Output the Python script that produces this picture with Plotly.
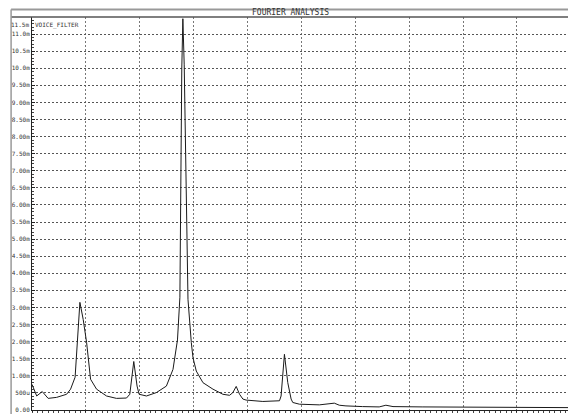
import plotly.graph_objects as go

# Frequency (Hz) and amplitude (V)
freq_hz = [0, 87, 190, 300, 457, 642, 716, 800, 889, 950, 1013, 1087, 1198, 1383,
           1568, 1754, 1815, 1889, 1950, 1988, 2124, 2309, 2494, 2617, 2700, 2745,
           2780, 2800, 2825, 2860, 2895, 2957, 2988, 3049, 3173, 3358, 3543, 3667,
           3728, 3790, 3852, 3914, 3975, 4284, 4593, 4623, 4685, 4747, 4809, 4840,
           4963, 5333, 5519, 5611, 5704, 5827, 6136, 6444, 6568, 6700, 7241, 8000,
           9222, 9948]
amp_mv = [0.75, 0.41, 0.54, 0.34, 0.37, 0.46, 0.61, 0.96, 3.15, 2.65, 1.98, 0.90,
          0.61, 0.41, 0.34, 0.35, 0.46, 1.42, 0.70, 0.46, 0.41, 0.51, 0.70, 1.19,
          2.05, 3.30, 10.0, 11.45, 10.1, 6.0, 3.24, 1.97, 1.53, 1.14, 0.80, 0.61,
          0.46, 0.43, 0.51, 0.69, 0.46, 0.32, 0.29, 0.25, 0.27, 0.41, 1.63, 0.80,
          0.32, 0.22, 0.17, 0.15, 0.17, 0.20, 0.14, 0.12, 0.10, 0.09, 0.14, 0.10,
          0.09, 0.09, 0.08, 0.07]
amp_v = [a / 1000.0 for a in amp_mv]

series_name = "VOICE_FILTER"
chart_title = "FOURIER ANALYSIS"

x_tickvals = [0, 1000, 2000, 3000, 4000, 5000, 6000, 7000, 8000, 9000, 10000]
x_ticktext = ["0.00", "1.00K", "2.00K", "3.00K", "4.00K", "5.00K", "6.00K",
              "7.00K", "8.00K", "9.00K", "10.0K"]
y_tickvals = [i * 0.0005 for i in range(24)]
y_ticktext = ["0.00", "500u", "1.00m", "1.50m", "2.00m", "2.50m", "3.00m", "3.50m",
              "4.00m", "4.50m", "5.00m", "5.50m", "6.00m", "6.50m", "7.00m", "7.50m",
              "8.00m", "8.50m", "9.00m", "9.50m", "10.0m", "10.5m", "11.0m", "11.5m"]

FONT = "DejaVu Sans Mono"

# the topmost y label sits just under the frame in the reference, so it is placed separately
axis_ticktext = y_ticktext[:-1] + [""]

fig = go.Figure()
fig.add_trace(go.Scatter(x=freq_hz, y=amp_v, mode="lines", name=series_name,
                         line=dict(color="#1a1a1a", width=1), showlegend=False))

fig.update_layout(
    width=568, height=414,
    margin=dict(l=32, r=0, t=17, b=4, pad=0),
    paper_bgcolor="white", plot_bgcolor="white",
    font=dict(family=FONT, size=6, color="#333"),
    xaxis=dict(range=[0, 9948], tickvals=x_tickvals, ticktext=x_ticktext,
               showgrid=True, gridcolor="#777", griddash="2px,2px", gridwidth=1,
               zeroline=False, showline=True, linecolor="#222", linewidth=1,
               ticks="outside", ticklen=1, tickcolor="#222",
               minor=dict(dtick=100, ticks="outside", ticklen=2, tickcolor="#444", showgrid=False),
               tickfont=dict(family=FONT, size=6, color="#333"), automargin=False),
    yaxis=dict(range=[0, 0.0115], tickvals=y_tickvals, ticktext=axis_ticktext,
               showgrid=True, gridcolor="#555", griddash="2px,2px", gridwidth=1,
               zeroline=False, showline=True, linecolor="#222", linewidth=1,
               ticks="inside", ticklen=3, tickcolor="#222",
               minor=dict(dtick=0.0001, ticks="inside", ticklen=2, tickcolor="#444", showgrid=False),
               tickfont=dict(family=FONT, size=6, color="#333"), automargin=False),
    shapes=[
        dict(type="line", xref="paper", yref="paper", x0=-0.039, x1=1, y0=1.019, y1=1.019,
             line=dict(color="#999", width=2)),
        dict(type="line", xref="paper", yref="paper", x0=-0.039, x1=1, y0=1.0, y1=1.0,
             line=dict(color="#555", width=1.5)),
        dict(type="line", xref="paper", yref="paper", x0=-0.039, x1=-0.039, y0=1.019, y1=-0.02,
             line=dict(color="#999", width=1.5)),
    ],
    annotations=[
        dict(text=chart_title, xref="paper", yref="paper", x=0.483, y=1.0105,
             xanchor="center", yanchor="middle", showarrow=False,
             font=dict(family=FONT, size=8, color="#333")),
        dict(text=series_name, xref="paper", yref="paper", x=0, y=0.995,
             xanchor="left", yanchor="top", showarrow=False, xshift=1,
             font=dict(family=FONT, size=6, color="#333")),
        dict(text=y_ticktext[-1], xref="paper", yref="paper", x=0, y=0.995,
             xanchor="right", yanchor="top", showarrow=False, xshift=-1,
             font=dict(family=FONT, size=6, color="#333")),
    ],
)

fig.write_html("out.html", config={"displayModeBar": False},
               post_script="document.body.style.margin='0';document.body.style.overflow='hidden';")
